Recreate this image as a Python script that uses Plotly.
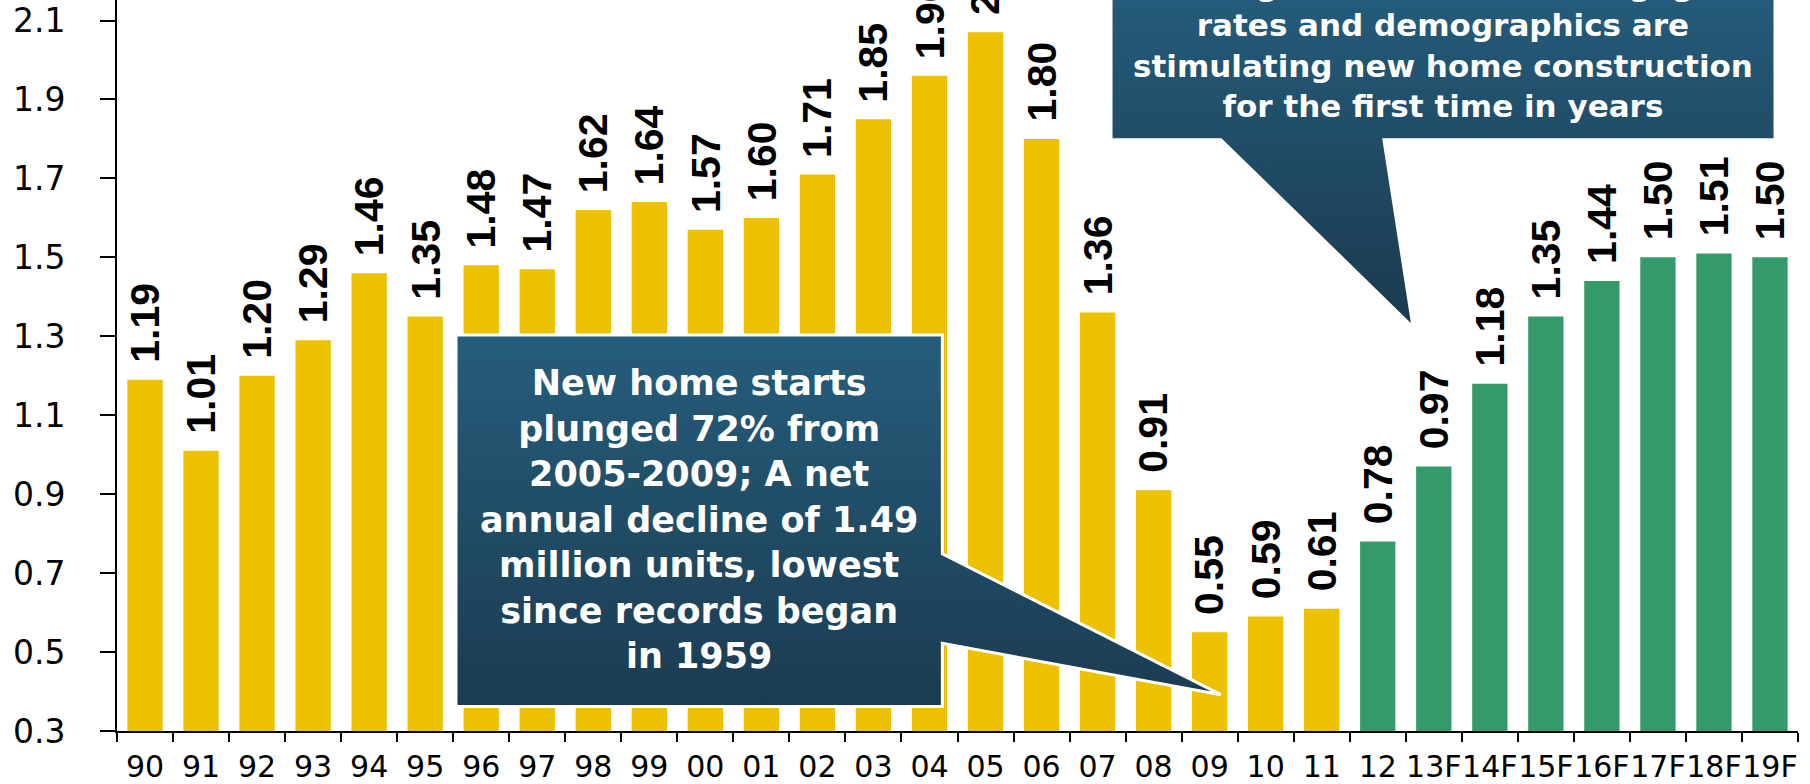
import plotly.graph_objects as go

# ---------------- data ----------------
categories = ["90", "91", "92", "93", "94", "95", "96", "97", "98", "99",
              "00", "01", "02", "03", "04", "05", "06", "07", "08", "09",
              "10", "11", "12", "13F", "14F", "15F", "16F", "17F", "18F", "19F"]
starts = [1.19, 1.01, 1.20, 1.29, 1.46, 1.35, 1.48, 1.47, 1.62, 1.64,
          1.57, 1.60, 1.71, 1.85, 1.96, 2.07, 1.80, 1.36, 0.91, 0.55,
          0.59, 0.61, 0.78, 0.97, 1.18, 1.35, 1.44, 1.50, 1.51, 1.50]
series_kind = ["hist"] * 22 + ["proj"] * 8
y_ticks = [0.3, 0.5, 0.7, 0.9, 1.1, 1.3, 1.5, 1.7, 1.9, 2.1]
y_tick_labels = ["0.3", "0.5", "0.7", "0.9", "1.1", "1.3", "1.5", "1.7", "1.9", "2.1"]

callout1_text = ("New home starts<br>plunged 72% from<br>2005-2009; A net<br>"
                 "annual decline of 1.49<br>million units, lowest<br>"
                 "since records began<br>in 1959")
callout2_text = ("Rising income, lower mortgage<br>rates and demographics are<br>"
                 "stimulating new home construction<br>for the first time in years")

# ---------------- styling ----------------
COLORS = {"hist": "#EBC100", "proj": "#349A6A"}
Y_RANGE = [0.3, 2.152]
X_RANGE = [-0.5, 29.5]

fig = go.Figure()

fig.add_trace(go.Bar(
    x=categories, y=starts,
    marker=dict(color=[COLORS[k] for k in series_kind], line=dict(width=0)),
    hoverinfo="skip", showlegend=False,
))

# callout shapes (category-index / value coordinates on an overlay axis)
c1_x = [5.55, 14.23, 14.23, 19.2, 14.23, 14.23, 5.55, 5.55]
c1_y = [1.303, 1.303, 0.749, 0.392, 0.522, 0.362, 0.362, 1.303]
c2_x = [17.24, 29.09, 29.09, 22.11, 22.63, 19.20, 17.24, 17.24]
c2_y = [2.304, 2.304, 1.798, 1.798, 1.323, 1.798, 1.798, 2.304]

fig.add_trace(go.Scatter(
    x=c1_x, y=c1_y, xaxis="x2", yaxis="y2", mode="lines",
    fill="toself",
    fillgradient=dict(type="vertical", start=0.362, stop=1.303,
                      colorscale=[[0, "#1B3B50"], [1, "#255D7C"]]),
    line=dict(color="white", width=3),
    hoverinfo="skip", showlegend=False,
))
fig.add_trace(go.Scatter(
    x=c2_x, y=c2_y, xaxis="x2", yaxis="y2", mode="lines",
    fill="toself",
    fillgradient=dict(type="vertical", start=1.323, stop=2.152,
                      colorscale=[[0, "#1B394D"], [1, "#245B7A"]]),
    line=dict(color="white", width=3),
    hoverinfo="skip", showlegend=False,
))

annotations = []
for i, v in enumerate(starts):
    annotations.append(dict(
        x=i, y=v, xref="x", yref="y", text=f"{v:.2f}",
        textangle=-90, showarrow=False, xanchor="center", yanchor="bottom",
        yshift=15,
        font=dict(family="Liberation Sans, Arial, sans-serif", size=41,
                  color="black", weight="bold"),
    ))

annotations.append(dict(
    x=9.89, y=0.835, xref="x2", yref="y2", text=callout1_text,
    showarrow=False, xanchor="center", yanchor="middle", align="center",
    font=dict(family="DejaVu Sans, sans-serif", size=35, color="white", weight="bold"),
))
annotations.append(dict(
    x=23.17, y=2.037, xref="x2", yref="y2", text=callout2_text,
    showarrow=False, xanchor="center", yanchor="middle", align="center",
    font=dict(family="DejaVu Sans, sans-serif", size=31, color="white", weight="bold"),
))

fig.update_layout(
    width=1810, height=784,
    margin=dict(l=117, r=12, t=0, b=51),
    paper_bgcolor="white", plot_bgcolor="white",
    bargap=0.37,
    showlegend=False,
    xaxis=dict(
        type="category", range=X_RANGE, showgrid=False, zeroline=False,
        showline=True, linecolor="black", linewidth=2,
        ticks="outside", ticklen=9, tickwidth=2, tickcolor="black",
        tickson="boundaries", tickangle=0, ticklabelstandoff=8,
        tickfont=dict(family="DejaVu Sans, sans-serif", size=30, color="black"),
    ),
    yaxis=dict(
        range=Y_RANGE, showgrid=False, zeroline=False,
        showline=True, linecolor="black", linewidth=2,
        ticks="outside", ticklen=15, tickwidth=2, tickcolor="black",
        tickvals=y_ticks, ticktext=y_tick_labels,
        ticklabelstandoff=28,
        tickfont=dict(family="DejaVu Sans, sans-serif", size=33, color="black"),
    ),
    xaxis2=dict(overlaying="x", anchor="y2", range=X_RANGE, visible=False),
    yaxis2=dict(overlaying="y", anchor="x2", range=Y_RANGE, visible=False),
    annotations=annotations,
)

fig.write_html("out.html",
               config={"displayModeBar": False, "staticPlot": True},
               post_script="document.body.style.margin='0px';"
                           "document.body.style.overflow='hidden';")
